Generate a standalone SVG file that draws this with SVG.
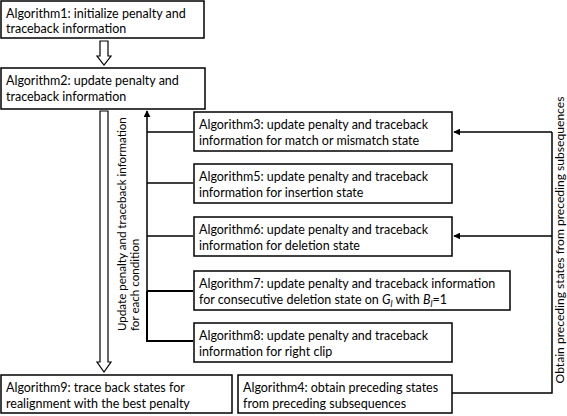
<svg xmlns="http://www.w3.org/2000/svg" width="567" height="416" viewBox="0 0 567 416">
<style>
  .box { fill: #fff; stroke: #000; stroke-width: 1.5; }
  .t { font-family: Lato, "Liberation Sans", sans-serif; font-size: 12.5px; fill: #000; }
  .ln { fill: none; stroke: #000; stroke-width: 1.5; }
  .hollow { fill: #fff; stroke: #000; stroke-width: 1.2; stroke-linejoin: miter; }
</style>
<defs>
  <marker id="ah" viewBox="0 0 10 10" refX="9" refY="5" markerWidth="7" markerHeight="7" markerUnits="userSpaceOnUse" orient="auto">
    <path d="M0,0 L10,5 L0,10 Z" fill="#000"/>
  </marker>
</defs>

<g id="connectors">
  <!-- hollow arrows -->
  <path class="hollow" d="M100,41 L108,41 L108,56 L111,56 L104,65 L97,56 L100,56 Z"/>
  <path class="hollow" d="M100,111 L108,111 L108,362 L111,362 L104,372 L97,362 L100,362 Z"/>
  <!-- left collector -->
  <path class="ln" d="M147,341 L147,111" marker-end="url(#ah)"/>
  <path class="ln" d="M147,132 L193,132"/>
  <path class="ln" d="M147,183 L193,183"/>
  <path class="ln" d="M147,236 L193,236"/>
  <path class="ln" d="M147,291 L193,291" style="stroke-width:2"/>
  <path class="ln" d="M147,291 L147,341 L193,341" style="stroke-width:2"/>
  <!-- right feedback -->
  <path class="ln" d="M452,393 L552,393 L552,132"/>
  <path class="ln" d="M552,132 L454,132" marker-end="url(#ah)"/>
  <path class="ln" d="M552,236 L454,236" marker-end="url(#ah)"/>
  <text class="t" style="font-size:11.6px" transform="translate(126,331) rotate(-90)">Update penalty and traceback information</text>
  <text class="t" style="font-size:11.6px" transform="translate(139,331) rotate(-90)">for each condition</text>
  <text class="t" style="font-size:12.1px" transform="translate(564,240) rotate(-90)" text-anchor="middle">Obtain preceding states from preceding subsequences</text>
</g>

<g id="alg1">
  <rect class="box" x="1" y="1" width="203" height="37"/>
  <text class="t" x="6" y="18">Algorithm1: initialize penalty and</text>
  <text class="t" x="6" y="33">traceback information</text>
</g>
<g id="alg2">
  <rect class="box" x="1" y="68" width="204" height="41"/>
  <text class="t" x="6" y="85">Algorithm2: update penalty and</text>
  <text class="t" x="6" y="101">traceback information</text>
</g>
<g id="alg3">
  <rect class="box" x="194" y="112" width="258" height="39"/>
  <text class="t" x="199" y="129">Algorithm3: update penalty and traceback</text>
  <text class="t" x="199" y="145">information for match or mismatch state</text>
</g>
<g id="alg5">
  <rect class="box" x="194" y="164" width="258" height="39"/>
  <text class="t" x="199" y="181">Algorithm5: update penalty and traceback</text>
  <text class="t" x="199" y="197">information for insertion state</text>
</g>
<g id="alg6">
  <rect class="box" x="194" y="217" width="258" height="39"/>
  <text class="t" x="199" y="234">Algorithm6: update penalty and traceback</text>
  <text class="t" x="199" y="250">information for deletion state</text>
</g>
<g id="alg7">
  <rect class="box" x="194" y="271" width="316" height="39"/>
  <text class="t" x="199" y="288">Algorithm7: update penalty and traceback information</text>
  <text class="t" x="199" y="304">for consecutive deletion state on <tspan font-style="italic">G</tspan><tspan font-style="italic" font-size="9" dy="3">l</tspan><tspan dy="-3"> with </tspan><tspan font-style="italic">B</tspan><tspan font-style="italic" font-size="9" dy="3">l</tspan><tspan dy="-3">=1</tspan></text>
</g>
<g id="alg8">
  <rect class="box" x="194" y="323" width="258" height="39"/>
  <text class="t" x="199" y="340">Algorithm8: update penalty and traceback</text>
  <text class="t" x="199" y="356">information for right clip</text>
</g>
<g id="alg9">
  <rect class="box" x="1" y="375" width="231" height="38"/>
  <text class="t" x="6" y="392">Algorithm9: trace back states for</text>
  <text class="t" x="6" y="408">realignment with the best penalty</text>
</g>
<g id="alg4">
  <rect class="box" x="238" y="375" width="214" height="38"/>
  <text class="t" x="243" y="392">Algorithm4: obtain preceding states</text>
  <text class="t" x="243" y="408">from preceding subsequences</text>
</g>
</svg>
